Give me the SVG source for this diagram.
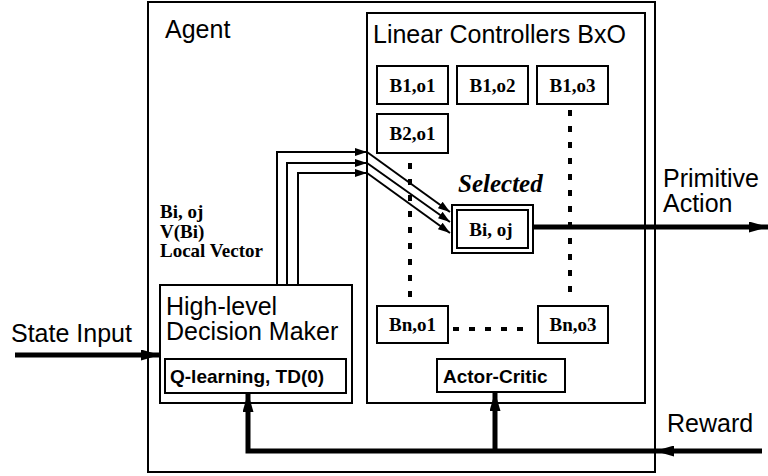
<svg xmlns="http://www.w3.org/2000/svg" width="768" height="476" viewBox="0 0 768 476">
<defs>
<style>
.box{fill:#fff;stroke:#000;stroke-width:2}
.sans{font-family:"Liberation Sans",Arial,sans-serif;fill:#000}
.serifb{font-family:"Liberation Serif","Times New Roman",serif;font-weight:bold;fill:#000}
.lbl{font-size:25px}
.cell{font-size:19px;text-anchor:middle}
.thin{fill:none;stroke:#000;stroke-width:2}
.thick{fill:none;stroke:#000;stroke-width:5}
.dots{fill:none;stroke:#000;stroke-width:4;stroke-dasharray:6 10}
</style>
<marker id="ah" markerWidth="12" markerHeight="8" refX="12" refY="4" orient="auto" markerUnits="userSpaceOnUse">
<path d="M0,0 L12,4 L0,8 Z" fill="#000"/>
</marker>
<marker id="ahb" markerWidth="19" markerHeight="11" refX="19" refY="5.5" orient="auto" markerUnits="userSpaceOnUse">
<path d="M0,0 L19,5.5 L0,11 Z" fill="#000"/>
</marker>
</defs>
<g id="agent">
<rect class="box" x="148" y="2" width="507" height="470"/>
<text class="sans lbl" x="165" y="38">Agent</text>
</g>
<g id="linear-controllers">
<rect class="box" x="367" y="13" width="278" height="390"/>
<text class="sans lbl" x="373" y="43">Linear Controllers BxO</text>
</g>
<g id="b1o1"><rect class="box" x="377" y="66" width="71" height="38"/><text class="serifb cell" x="412.5" y="92">B1,o1</text></g>
<g id="b1o2"><rect class="box" x="457" y="66" width="71" height="38"/><text class="serifb cell" x="492.5" y="92">B1,o2</text></g>
<g id="b1o3"><rect class="box" x="537" y="66" width="71" height="38"/><text class="serifb cell" x="572.5" y="92">B1,o3</text></g>
<g id="b2o1"><rect class="box" x="377" y="114" width="71" height="39"/><text class="serifb cell" x="412.5" y="140">B2,o1</text></g>
<g id="bno1"><rect class="box" x="377" y="306" width="71" height="37"/><text class="serifb cell" x="412.5" y="331">Bn,o1</text></g>
<g id="bno3"><rect class="box" x="538" y="306" width="70" height="37"/><text class="serifb cell" x="573" y="331">Bn,o3</text></g>
<g id="selected">
<rect class="box" x="452" y="205" width="81" height="48"/>
<rect class="box" x="457" y="210" width="71" height="38"/>
<text class="serifb cell" x="491" y="236">Bi, oj</text>
<text class="serifb" x="458" y="192" style="font-size:25px;font-style:italic">Selected</text>
</g>
<g id="actor-critic">
<rect class="box" x="437" y="359" width="128" height="33"/>
<text class="sans" x="443" y="383" style="font-size:19px;font-weight:bold">Actor-Critic</text>
</g>
<g id="decision-maker">
<rect class="box" x="160" y="285" width="192" height="118"/>
<text class="sans" x="166" y="315" style="font-size:25px">High-level</text>
<text class="sans" x="166" y="340" style="font-size:25px">Decision Maker</text>
<rect class="box" x="165" y="359" width="181" height="34"/>
<text class="sans" x="170" y="383" style="font-size:19px;font-weight:bold">Q-learning, TD(0)</text>
</g>
<g id="labels">
<text class="serifb" x="160" y="218" style="font-size:19px">Bi, oj</text>
<text class="serifb" x="160" y="238" style="font-size:19px">V(Bi)</text>
<text class="serifb" x="160" y="257" style="font-size:19px">Local Vector</text>
<text class="sans lbl" x="11" y="342">State Input</text>
<text class="sans lbl" x="663" y="187">Primitive</text>
<text class="sans lbl" x="663" y="212">Action</text>
<text class="sans lbl" x="667" y="432">Reward</text>
</g>
<g id="connectors">
<path class="dots" d="M410 163 V302"/>
<path class="dots" d="M570 110 V302"/>
<path class="dots" d="M453 329 H532"/>
<path class="thin" d="M277 285 V152 H367" marker-end="url(#ah)"/>
<path class="thin" d="M287 285 V163 H367" marker-end="url(#ah)"/>
<path class="thin" d="M298 285 V173 H367" marker-end="url(#ah)"/>
<path class="thin" d="M367 152 L450 212" marker-end="url(#ah)"/>
<path class="thin" d="M367 163 L450 222" marker-end="url(#ah)"/>
<path class="thin" d="M367 173 L450 233" marker-end="url(#ah)"/>
<path class="thick" d="M533 227 H768" marker-end="url(#ahb)"/>
<path class="thick" d="M15 355 H160" marker-end="url(#ahb)"/>
<path class="thick" d="M762 451 H655" marker-end="url(#ahb)"/>
<path class="thick" d="M655 451 H248 V393" marker-end="url(#ahb)"/>
<path class="thick" d="M495 451 V392" marker-end="url(#ahb)"/>
</g>
</svg>
